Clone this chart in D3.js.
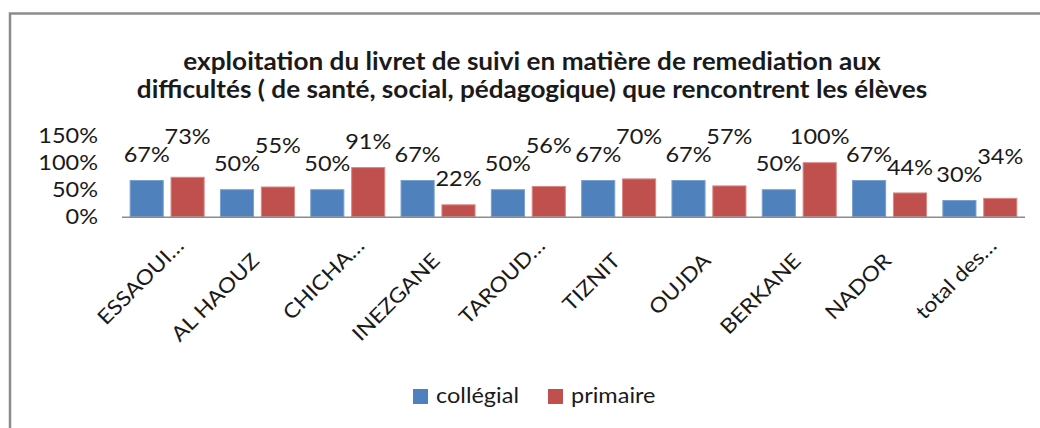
<!DOCTYPE html>
<html>
<head>
<meta charset="utf-8">
<script src="https://cdn.jsdelivr.net/npm/d3@7"></script>
<style>
  body { margin: 0; background: #fff; }
  svg text { font-family: Lato, "Open Sans", sans-serif; fill: #1a1a1a; }
</style>
</head>
<body>
<svg id="chart" width="1040" height="428"></svg>
<script>
const titleLines = [
    'exploitation du livret de suivi en matière de remediation aux',
    'difficultés ( de santé, social, pédagogique) que rencontrent les élèves'
];
const categories = ['ESSAOUI…', 'AL HAOUZ', 'CHICHA…', 'INEZGANE', 'TAROUD…', 'TIZNIT', 'OUJDA', 'BERKANE', 'NADOR', 'total des…'];
const seriesNames = ['collégial', 'primaire'];
const collegial = [0.67, 0.50, 0.50, 0.67, 0.50, 0.67, 0.67, 0.50, 0.67, 0.30];
const primaire  = [0.73, 0.55, 0.91, 0.22, 0.56, 0.70, 0.57, 1.00, 0.44, 0.34];
const yTicks = [0, 0.5, 1, 1.5];

const colors = ['#4f81bd', '#c0504d'];
const borders = ['#7aa0d0', '#d98885'];
// the source font is drawn a bit wider than Lato
const stretch = 1.12;
const pct = d3.format('.0%');

const svg = d3.select('#chart');

// place a text at (px,py), optionally rotated, widened by `stretch`
function addText(parent, px, py, str, opts) {
    const o = Object.assign({ size: 21, anchor: 'middle', rotate: 0, sx: stretch, weight: 'normal', dy: null }, opts);
    const t = parent.append('text')
        .attr('transform', `translate(${px},${py}) rotate(${o.rotate}) scale(${o.sx},1)`)
        .attr('text-anchor', o.anchor)
        .style('font-size', o.size + 'px')
        .style('font-weight', o.weight)
        .text(str);
    if (o.dy) t.attr('dy', o.dy);
    return t;
}

// outer frame (only left and top visible)
svg.append('path')
    .attr('d', 'M10,428 L10,13.5 L1040,13.5')
    .attr('fill', 'none')
    .attr('stroke', '#8c8c8c')
    .attr('stroke-width', 2.5);

// title
const titleG = svg.append('g');
titleLines.forEach((line, i) => {
    addText(titleG, 532, 70 + i * 28, line, { size: 24, weight: 'bold', sx: 1.09 });
});

const plot = { left: 122, right: 1025, top: 135.7, bottom: 216.7 };

const x = d3.scaleBand()
    .domain(categories)
    .range([plot.left, plot.right]);

const clusterWidth = 74;
const x1 = d3.scaleBand()
    .domain(seriesNames)
    .range([0, clusterWidth])
    .paddingInner(0.19);

const y = d3.scaleLinear()
    .domain([0, 1.5])
    .range([plot.bottom, plot.top]);

// y axis labels
const yAxisG = svg.append('g');
yTicks.forEach(t => {
    addText(yAxisG, 98, y(t), pct(t), { anchor: 'end', dy: '0.36em' });
});

// bars
const rows = categories.map((c, i) => ({ cat: c, values: [collegial[i], primaire[i]] }));
const clusterX = c => x(c) + (x.bandwidth() - clusterWidth) / 2;

const groups = svg.append('g')
    .selectAll('g')
    .data(rows)
    .enter()
    .append('g')
    .attr('transform', d => `translate(${clusterX(d.cat)},0)`);

groups.selectAll('rect')
    .data(d => d.values.map((v, s) => ({ v, s })))
    .enter()
    .append('rect')
    .attr('x', d => x1(seriesNames[d.s]))
    .attr('y', d => y(d.v))
    .attr('width', x1.bandwidth())
    .attr('height', d => plot.bottom - y(d.v))
    .attr('fill', d => colors[d.s])
    .attr('stroke', d => borders[d.s])
    .attr('stroke-width', 1);

// x axis line
svg.append('line')
    .attr('x1', plot.left)
    .attr('x2', plot.right)
    .attr('y1', plot.bottom + 0.5)
    .attr('y2', plot.bottom + 0.5)
    .attr('stroke', '#8c8c8c')
    .attr('stroke-width', 1.5);

// data labels, pushed up when they collide with an earlier one
const labelLayer = svg.append('g');
const placed = [];
rows.forEach(r => {
    r.values.forEach((v, s) => {
        const cx = clusterX(r.cat) + x1(seriesNames[s]) + x1.bandwidth() / 2;
        let cy = y(v) - 26;
        const t = addText(labelLayer, cx, cy, pct(v), { dy: '0.36em' });
        const w = t.node().getComputedTextLength() * stretch;
        let moved = true;
        while (moved) {
            moved = false;
            for (const p of placed) {
                if (Math.abs(p.x - cx) < (p.w + w) / 2 - 3 && Math.abs(p.y - cy) < 12) {
                    cy = p.y - 18;
                    moved = true;
                }
            }
        }
        placed.push({ x: cx, y: cy, w });
        t.attr('transform', `translate(${cx},${cy}) scale(${stretch},1)`);
    });
});

// category labels
const catG = svg.append('g');
categories.forEach(c => {
    const cut = c.endsWith('…') ? 15 : 0;
    const ax = x(c) + x.bandwidth() / 2 + 3 + cut;
    const ay = 262 - cut;
    addText(catG, ax, ay, c, { size: 20.5, anchor: 'end', rotate: -45 });
});

// legend
const legend = svg.append('g')
    .selectAll('g')
    .data(seriesNames)
    .enter()
    .append('g')
    .attr('transform', (d, i) => `translate(${413 + i * 135},389)`);

legend.append('rect')
    .attr('width', 15)
    .attr('height', 15)
    .attr('fill', (d, i) => colors[i]);

legend.each(function (d) {
    addText(d3.select(this), 23, 14, d, { anchor: 'start' });
});
</script>
</body>
</html>
